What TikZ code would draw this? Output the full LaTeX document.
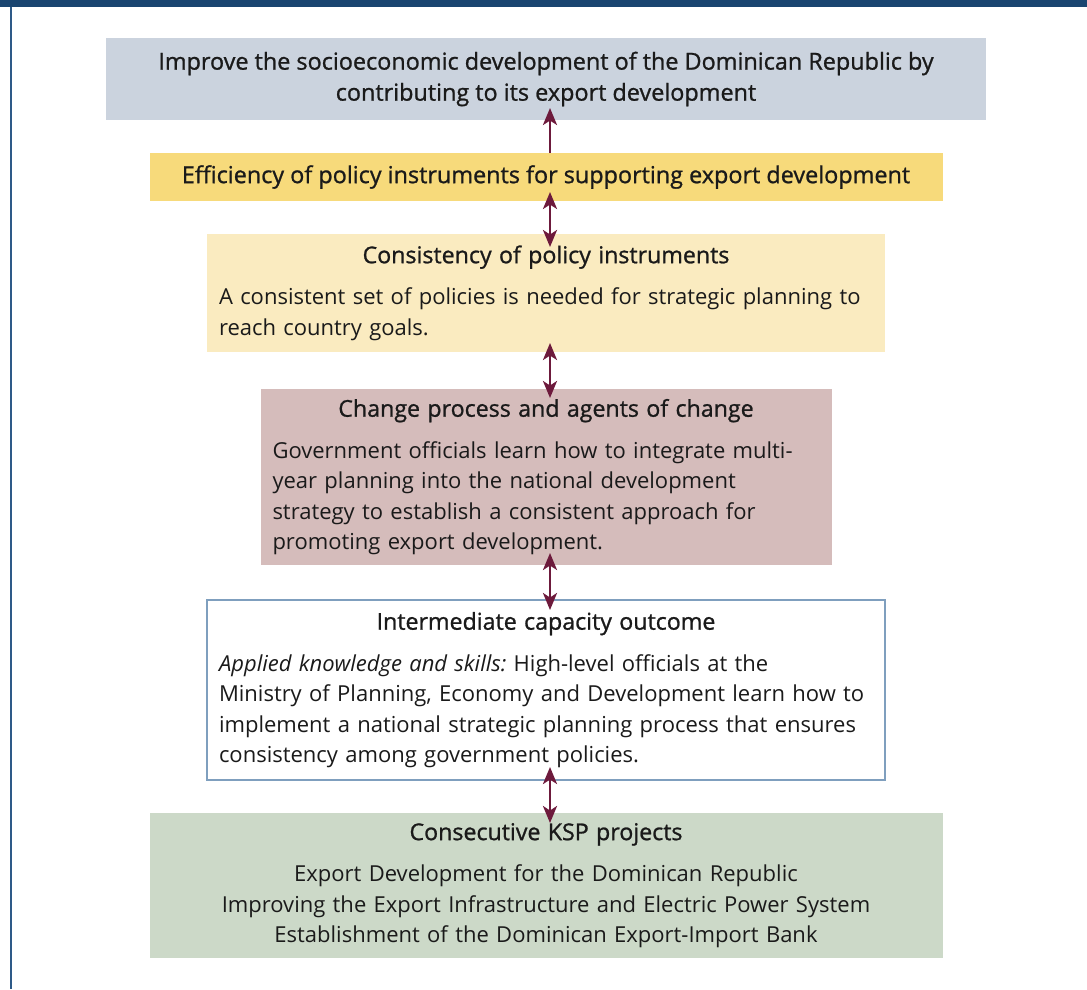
\documentclass[tikz,border=0pt]{standalone}
\usepackage{fontspec}
\setmainfont{Open Sans}
\newfontfamily\headfont[FakeBold=1]{Open Sans}
\usetikzlibrary{positioning,arrows.meta}
\definecolor{barblue}{HTML}{1A4570}
\definecolor{frameblue}{HTML}{2E5A88}
\definecolor{goalgray}{HTML}{CBD3DE}
\definecolor{effyellow}{HTML}{F7DA7B}
\definecolor{conscream}{HTML}{FAEBC0}
\definecolor{chgrose}{HTML}{D5BCBB}
\definecolor{outblue}{HTML}{7F9FBE}
\definecolor{kspgreen}{HTML}{CCD9C8}
\definecolor{linkred}{HTML}{6D1A3C}
\definecolor{ink}{HTML}{1A1A1A}
\newcommand{\boxhead}[1]{{\centering\fontsize{23.2}{30}\headfont #1\par}\vspace{11pt}}

\begin{document}
\begin{tikzpicture}[x=1pt, y=1pt, node distance=33pt,
    box/.style={rectangle, inner xsep=12pt, inner ysep=0pt, outer sep=0pt, text=ink, font=\fontsize{22}{30.5}\selectfont},
    headbox/.style={box, align=center, font=\fontsize{23.4}{31}\headfont},
    link/.style={draw=linkred, line width=2.8pt},
    >={Stealth[length=17pt,width=14pt,inset=4.5pt]}]
    \useasboundingbox (0,0) rectangle (1087,-989);
    % frame
    \fill[barblue] (0,0) rectangle (1087,-7);
    \draw[frameblue, line width=2pt] (11,-7) -- (11,-989);

    \node [headbox, fill=goalgray, minimum width=880pt, minimum height=82pt] (goal) at (546,-79)
        {Improve the socioeconomic development of the Dominican Republic by\\contributing to its export development};
    \node [headbox, fill=effyellow, minimum width=793pt, minimum height=48pt, below=of goal] (eff)
        {Efficiency of policy instruments for supporting export development};
    \node [box, fill=conscream, text width=654pt, minimum height=118pt, align=left, below=of eff] (cons)
        {\boxhead{Consistency of policy instruments}
        A consistent set of policies is needed for strategic planning to\\
        reach country goals.};
    \node [box, fill=chgrose, text width=547pt, minimum height=176pt, align=left, below=37pt of cons] (chg)
        {\boxhead{Change process and agents of change}
        Government officials learn how to integrate multi-\\
        year planning into the national development\\
        strategy to establish a consistent approach for\\
        promoting export development.};
    \node [box, draw=outblue, line width=1.5pt, fill=white, text width=654pt, minimum height=180pt, align=left, below=35pt of chg] (out)
        {\boxhead{Intermediate capacity outcome}
        \textit{Applied knowledge and skills:}\ High-level officials at the\\
        Ministry of Planning, Economy and Development learn how to\\
        implement a national strategic planning process that ensures\\
        consistency among government policies.};
    \node [box, fill=kspgreen, text width=769pt, minimum height=145pt, align=center, below=of out] (ksp)
        {\boxhead{Consecutive KSP projects}
        Export Development for the Dominican Republic\\
        Improving the Export Infrastructure and Electric Power System\\
        Establishment of the Dominican Export-Import Bank};

    \draw[link, ->] ([xshift=4pt]eff.north) -- ([xshift=4pt,yshift=12pt]goal.south);
    \draw[link, <->] ([xshift=4pt,yshift=9pt]eff.south) -- ([xshift=4pt,yshift=-13pt]cons.north);
    \draw[link, <->] ([xshift=4pt,yshift=9pt]cons.south) -- ([xshift=4pt,yshift=-9pt]chg.north);
    \draw[link, <->] ([xshift=4pt,yshift=12pt]chg.south) -- ([xshift=4pt,yshift=-10pt]out.north);
    \draw[link, <->] ([xshift=4pt,yshift=13pt]out.south) -- ([xshift=4pt,yshift=-10pt]ksp.north);
\end{tikzpicture}
\end{document}
